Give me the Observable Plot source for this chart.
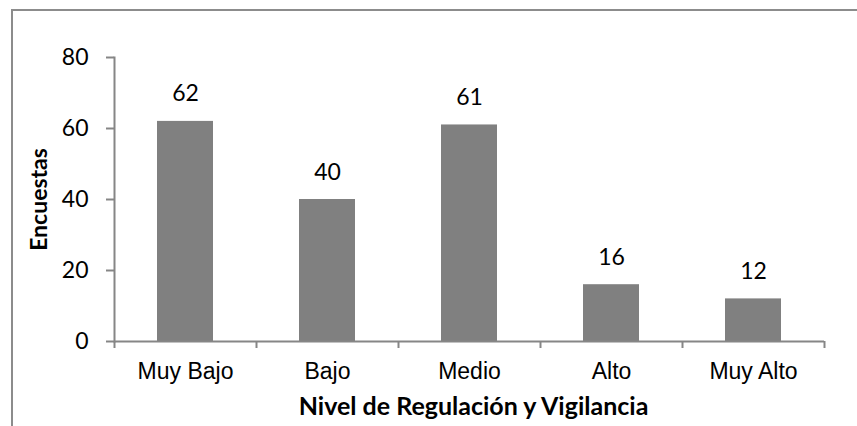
<!DOCTYPE html>
<html>
<head>
<meta charset="utf-8">
<script src="https://cdn.jsdelivr.net/npm/d3@7"></script>
<script src="https://cdn.jsdelivr.net/npm/@observablehq/plot@0.6"></script>
<style>
  html, body { margin: 0; padding: 0; background: #fff; }
  #wrap { position: relative; width: 857px; height: 426px; overflow: hidden; }
  #border { position: absolute; left: 11px; top: 9px; right: -10px; bottom: -10px;
            border-left: 2px solid #8c8c8c; border-top: 2px solid #8c8c8c; pointer-events: none; }
  .cat-labels text { font-family: 'Liberation Sans', Arial, sans-serif; }
</style>
</head>
<body>
<div id="wrap"><div id="border"></div></div>
<script>
// Encuestas por nivel de regulación y vigilancia
const categories = ["Muy Bajo", "Bajo", "Medio", "Alto", "Muy Alto"];
const encuestas = [62, 40, 61, 16, 12];
const yTicks = [0, 20, 40, 60, 80];
const yTitle = "Encuestas";
const xTitle = "Nivel de Regulación y Vigilancia";

const data = categories.map((c, i) => ({nivel: c, encuestas: encuestas[i]}));

const numFont = "Lato, 'Open Sans', sans-serif";
const catFont = "'Liberation Sans', Arial, sans-serif";
const axisGray = "#868686";

const chart = Plot.plot({
  width: 857,
  height: 426,
  marginLeft: 114,
  marginRight: 33,
  marginTop: 57,
  marginBottom: 85,
  style: {background: "transparent", color: "#000"},
  x: {domain: categories, paddingInner: 0.606, paddingOuter: 0.303, axis: null},
  y: {domain: [0, 80], axis: null},
  marks: [
    Plot.barY(data, {x: "nivel", y: "encuestas", fill: "#808080"}),
    // y axis with outward ticks
    Plot.axisY({ticks: yTicks, tickSize: 8, tickPadding: 18, stroke: axisGray, strokeWidth: 2, strokeOpacity: 1,
      fontFamily: numFont, fontSize: 23, fill: "#000", label: null}),
    Plot.frame({anchor: "left", stroke: axisGray, strokeWidth: 2}),
    Plot.ruleY([0], {stroke: axisGray, strokeWidth: 2}),
    // category boundary ticks along the x axis
    Plot.axisX({tickSize: 7, dx: -71, text: null, stroke: axisGray, strokeWidth: 2, strokeOpacity: 1, label: null}),
    Plot.axisX([categories[categories.length - 1]], {tickSize: 7, dx: 71, text: null, stroke: axisGray, strokeWidth: 2, strokeOpacity: 1, label: null}),
    // category labels
    Plot.axisX({tickSize: 0, tickPadding: 21, fontFamily: catFont, fontSize: 23, fill: "#000", label: null,
      className: "cat-labels"}),
    // value labels above bars
    Plot.text(data, {x: "nivel", y: "encuestas", text: d => String(d.encuestas), dy: -20, lineAnchor: "bottom",
      fontFamily: numFont, fontSize: 23, fill: "#000"}),
    // axis titles
    Plot.text([yTitle], {frameAnchor: "left", textAnchor: "middle", rotate: -90, lineAnchor: "top", dx: -84,
      fontFamily: numFont, fontWeight: "bold", fontSize: 23, fill: "#000"}),
    Plot.text([xTitle], {frameAnchor: "bottom", textAnchor: "middle", lineAnchor: "top", dy: 56, dx: 4,
      fontFamily: numFont, fontWeight: "bold", fontSize: 25, fill: "#000"})
  ]
});

document.getElementById("wrap").insertBefore(chart, document.getElementById("border"));
</script>
</body>
</html>
